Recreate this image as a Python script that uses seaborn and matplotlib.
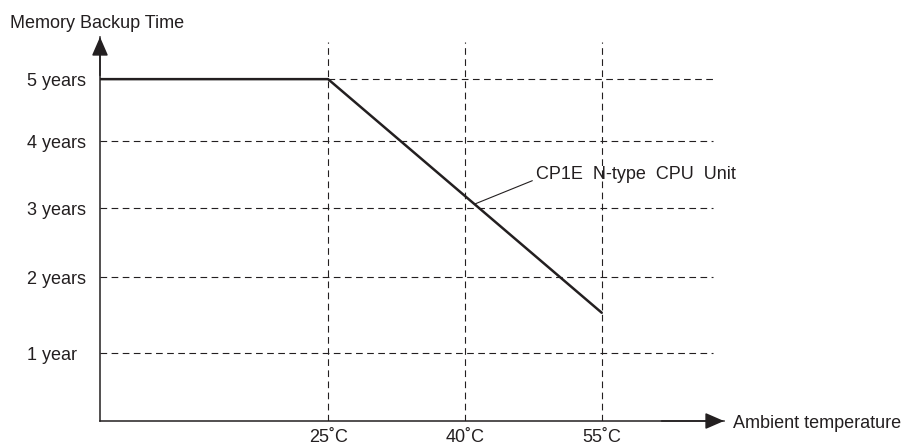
import matplotlib
matplotlib.use("Agg")
import matplotlib.pyplot as plt
import numpy as np
import seaborn as sns

# 資料
temps = [0, 25, 55]
backup_years = [5, 5, 1.53]
x_ticks = [25, 40, 55]
x_labels = ["25˚C", "40˚C", "55˚C"]
y_ticks = [1, 2, 3, 4, 5]
y_labels = ["1 year", "2 years", "3 years", "4 years", "5 years"]
series_label = "CP1E  N-type  CPU  Unit"

INK = "#231f20"

# 原圖的年份刻度間距不均勻，用分段線性比例尺對應
scale_years = [0, 1, 2, 3, 4, 5, 6]
scale_pos = [0, 68, 144, 213, 280, 342, 404]


def fwd(v):
    return np.interp(v, scale_years, scale_pos)


def inv(v):
    return np.interp(v, scale_pos, scale_years)


sns.set_style("white")
plt.rcParams["font.family"] = ["Liberation Sans", "DejaVu Sans"]
plt.rcParams["font.size"] = 13
plt.rcParams["text.color"] = INK

W, H = 907, 445
fig = plt.figure(figsize=(W / 100, H / 100), dpi=100)
ax = fig.add_axes([100 / W, (H - 421) / H, (724 - 100) / W, (421 - 37) / H])
ax.set_yscale("function", functions=(fwd, inv))

x_max, y_max = 68.4, 5.68
grid_x_end, grid_y_end = 67.2, 5.6
dash = (0, (6, 4))

ax.set_xlim(0, x_max)
ax.set_ylim(0, y_max)

# 格線
ax.hlines(y_ticks[:-1], 0, grid_x_end, colors=INK, lw=0.8, linestyles=[dash])
ax.hlines(y_ticks[-1], x_ticks[0], grid_x_end, colors=INK, lw=0.8, linestyles=[dash])
ax.vlines(x_ticks, 0, grid_y_end, colors=INK, lw=0.8, linestyles=[dash])

# 資料線
sns.lineplot(x=temps, y=backup_years, color=INK, lw=1.8, ax=ax)

# 標註：取斜線段上約 53% 處
p0 = ax.transData.transform((temps[1], backup_years[1]))
p1 = ax.transData.transform((temps[2], backup_years[2]))
pt = ax.transData.inverted().transform(p0 + (p1 - p0) * 0.535)
ax.annotate(series_label, xy=pt, xytext=(44, 21.5), textcoords="offset points",
            fontsize=13, va="center", ha="left",
            arrowprops=dict(arrowstyle="-", color=INK, lw=0.8, relpos=(0, 0.2),
                            shrinkA=0, shrinkB=0))

ax.set_xticks(x_ticks)
ax.set_xticklabels(x_labels)
ax.set_yticks(y_ticks)
ax.set_yticklabels(y_labels)
ax.yaxis.set_minor_locator(matplotlib.ticker.NullLocator())
ax.tick_params(axis="x", length=0, pad=6, labelsize=13, colors=INK)
ax.tick_params(axis="y", length=0, pad=52.5, labelsize=13, colors=INK)
for lab in ax.get_yticklabels():
    lab.set_horizontalalignment("left")

sns.despine(ax=ax)
for side in ["left", "bottom"]:
    ax.spines[side].set_color(INK)
    ax.spines[side].set_linewidth(1.1)

# 軸箭頭
head = dict(arrowstyle="-|>,head_length=1.15,head_width=0.5", color=INK,
            lw=1.1, mutation_scale=10, shrinkA=0, shrinkB=0)
ax.annotate("", xy=(1, 0), xycoords="axes fraction", xytext=(0.9, 0),
            arrowprops=head, annotation_clip=False)
ax.annotate("", xy=(0, 1), xycoords="axes fraction", xytext=(0, 0.9),
            arrowprops=head, annotation_clip=False)

fig.text(10 / W, 1 - 23 / H, "Memory Backup Time", ha="left", va="center", fontsize=13)
fig.text(733 / W, 1 - 423 / H, "Ambient temperature", ha="left", va="center", fontsize=13)

fig.savefig("out.png", dpi=100)
